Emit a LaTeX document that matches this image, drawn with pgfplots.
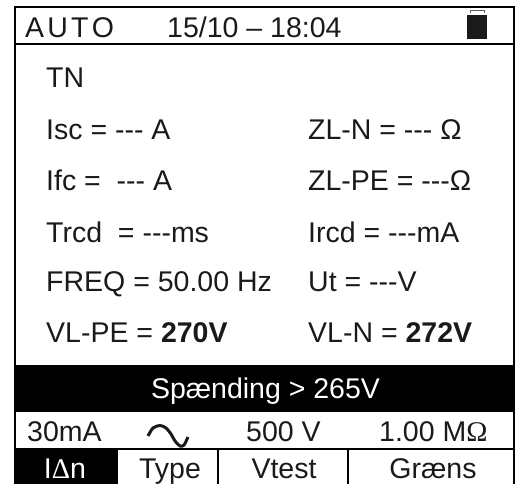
\documentclass[border=0pt]{standalone}
\usepackage{pgfplots}
\pgfplotsset{compat=1.18}
\usepackage{fontspec}
\setmainfont{Liberation Sans}
\newfontfamily\symb{Liberation Serif}
\definecolor{ink}{HTML}{1A1A1A}
\newcommand{\dsh}{-{}-{}-}
\tikzset{
  lab/.style={font=\fontsize{28.5}{32}\selectfont, text=ink, inner sep=0pt, anchor=base west},
  mid/.style={lab, anchor=base},
}
\begin{document}
\begin{tikzpicture}
\begin{axis}[
  scale only axis, width=523pt, height=484pt,
  xmin=0, xmax=523, ymin=0, ymax=484, y dir=reverse,
  axis lines=none, clip=false,
]
% black areas
\addplot[fill=black, draw=none] coordinates {(15,365) (514,365) (514,412) (15,412)} --cycle;
\addplot[fill=black, draw=none] coordinates {(15,449) (118,449) (118,484) (15,484)} --cycle;
% frame and rules
\addplot[black, line width=2pt] coordinates {(15,484) (15,7) (514,7) (514,484)};
\addplot[black, line width=2pt] coordinates {(15,44) (514,44)};
\addplot[black, line width=2pt] coordinates {(15,449) (514,449)};
\addplot[black, line width=2pt] coordinates {(218,449) (218,484)};
\addplot[black, line width=2pt] coordinates {(348,449) (348,484)};
% battery
\addplot[fill=ink, draw=none] coordinates {(467,15) (487,15) (487,39) (467,39)} --cycle;
\addplot[fill=white, draw=ink!70, line width=1pt] coordinates {(470,13.5) (470,10.5) (484,10.5) (484,13.5)};
% sine symbol
\addplot[ink, line width=3pt, smooth] coordinates {
  (148,436) (153,428) (160,425.5) (166,428) (171,434) (175,441) (180,446) (184,445) (188,437)};
% header
\node[lab] at (axis cs:25,38) {A\kern3.2pt U\kern3.2pt T\kern3.2pt O};
\node[lab] at (axis cs:167,38) {15/10 – 18:04};
% body
\node[lab] at (axis cs:46,88) {TN};
\node[lab] at (axis cs:46,140) {Isc = \dsh{} A};
\node[lab] at (axis cs:308,140) {ZL-N = \dsh{} Ω};
\node[lab] at (axis cs:46,191) {Ifc = \ \dsh{} A};
\node[lab] at (axis cs:308,191) {ZL-PE = \dsh{}Ω};
\node[lab] at (axis cs:46,243) {Trcd \ = \dsh{}ms};
\node[lab] at (axis cs:308,243) {Ircd = \dsh{}mA};
\node[lab] at (axis cs:46,292) {FREQ = 50.00 Hz};
\node[lab] at (axis cs:308,292) {Ut = \dsh{}V};
\node[lab] at (axis cs:46,342) {VL-PE = \textbf{270V}};
\node[lab] at (axis cs:308,342) {VL-N = \textbf{272V}};
% status bar
\node[mid, text=white] at (axis cs:265.5,399) {Spænding > 265V};
% parameter row
\node[lab] at (axis cs:27,442) {30mA};
\node[lab] at (axis cs:246,442) {500 V};
\node[lab] at (axis cs:379,442) {1.00 M{\symb Ω}};
% softkeys
\node[mid, text=white] at (axis cs:65,478) {I{\symb Δ}n};
\node[mid] at (axis cs:170,478) {Type};
\node[mid] at (axis cs:284,478) {Vtest};
\node[mid] at (axis cs:433,478) {Græns};
\end{axis}
\pgfresetboundingbox
\path (0,0) rectangle (523pt,484pt);
\end{tikzpicture}
\end{document}
